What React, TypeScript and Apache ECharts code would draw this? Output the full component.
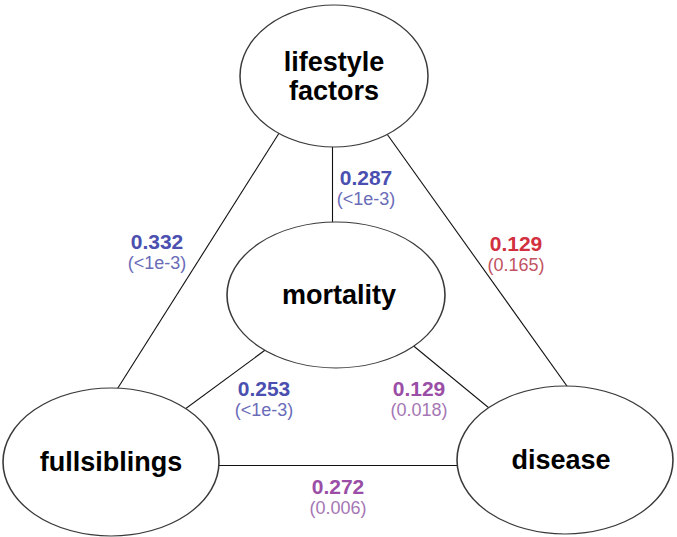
import React, { useEffect, useRef } from "react";
import * as echarts from "echarts";

// ---------- DATA ----------
const nodeNames = ["lifestyle\nfactors", "mortality", "fullsiblings", "disease"];
const edgeSources = ["lifestyle\nfactors", "lifestyle\nfactors", "lifestyle\nfactors", "mortality", "mortality", "fullsiblings"];
const edgeTargets = ["mortality", "fullsiblings", "disease", "fullsiblings", "disease", "disease"];
const edgeEstimates = [0.287, 0.332, 0.129, 0.253, 0.129, 0.272];
const edgePValues = ["(<1e-3)", "(<1e-3)", "(0.165)", "(<1e-3)", "(0.018)", "(0.006)"];
const edgeSignificance = ["strong", "strong", "none", "strong", "weak", "weak"];

// ---------- LAYOUT (positions / sizes / styles) ----------
const W = 677;
const H = 537;
const nodeLayout: Record<string, { cx: number; cy: number; rx: number; ry: number; dx?: number }> = {
  "lifestyle\nfactors": { cx: 334, cy: 76, rx: 94, ry: 71 },
  mortality: { cx: 336, cy: 295, rx: 109, ry: 73, dx: 3 },
  fullsiblings: { cx: 111, cy: 462, rx: 108, ry: 74 },
  disease: { cx: 565, cy: 460, rx: 108, ry: 74, dx: -4 },
};
// segments run deep into both ellipses; the white ellipse fill hides the inner parts
const edgeLayout = [
  { from: [332, 100], to: [332, 270], label: [366, 188] },
  { from: [300, 100], to: [85, 440], label: [157, 252] },
  { from: [362.7, 100], to: [605.5, 440], label: [516, 254] },
  { from: [306, 320], to: [143, 440], label: [264, 399] },
  { from: [382, 320], to: [528, 440], label: [419, 399] },
  { from: [150, 465], to: [520, 465], label: [338, 497] },
];
const sigColors: Record<string, { v: string; p: string }> = {
  strong: { v: "#4a4fb0", p: "#6a6cb8" },
  none: { v: "#d2303f", p: "#c2535f" },
  weak: { v: "#9a4ea6", p: "#a577b4" },
};
const FONT = '"Liberation Sans", Arial, Helvetica, sans-serif';
const ELLIPSE = "path://M-1,0A1,1,0,1,0,1,0A1,1,0,1,0,-1,0Z";

export default function App() {
  const ref = useRef<HTMLDivElement>(null);
  useEffect(() => {
    if (!ref.current) return;
    const chart = echarts.init(ref.current, undefined, { renderer: "svg" });

    const lineData = edgeSources.map((s, i) => ({
      name: s + "-" + edgeTargets[i],
      coords: [edgeLayout[i].from, edgeLayout[i].to],
    }));

    const nodeData = nodeNames.map((n) => {
      const l = nodeLayout[n];
      return {
        name: n,
        value: [l.cx, l.cy],
        symbolSize: [l.rx * 2, l.ry * 2],
        label: { offset: [l.dx || 0, 0] },
      };
    });

    const labelData = edgeEstimates.map((v, i) => {
      const key = edgeSignificance[i];
      return {
        name: edgeSources[i] + "-" + edgeTargets[i],
        value: edgeLayout[i].label,
        label: {
          formatter: "{v" + key + "|" + v.toFixed(3) + "}\n{p" + key + "|" + edgePValues[i] + "}",
        },
      };
    });

    const rich: Record<string, any> = {};
    Object.keys(sigColors).forEach((k) => {
      rich["v" + k] = {
        fontFamily: FONT,
        fontSize: 21,
        fontWeight: "bold",
        color: sigColors[k].v,
        lineHeight: 21,
        align: "center",
      };
      rich["p" + k] = {
        fontFamily: FONT,
        fontSize: 18,
        color: sigColors[k].p,
        lineHeight: 21,
        align: "center",
      };
    });

    chart.setOption({
      animation: false,
      backgroundColor: "#ffffff",
      grid: { left: 0, right: 0, top: 0, bottom: 0 },
      xAxis: { type: "value", min: 0, max: W, show: false },
      yAxis: { type: "value", min: 0, max: H, inverse: true, show: false },
      series: [
        {
          type: "lines",
          coordinateSystem: "cartesian2d",
          z: 1,
          silent: true,
          lineStyle: { color: "#111111", width: 1.1, opacity: 1 },
          data: lineData,
        },
        {
          type: "scatter",
          z: 3,
          symbol: ELLIPSE,
          itemStyle: { color: "#ffffff", borderColor: "#3a3a3a", borderWidth: 1.3, opacity: 1 },
          label: {
            show: true,
            position: "inside",
            formatter: "{b}",
            fontFamily: FONT,
            fontSize: 27,
            fontWeight: "bold",
            color: "#000000",
            lineHeight: 29,
            align: "center",
          },
          data: nodeData,
        },
        {
          type: "scatter",
          z: 4,
          symbolSize: 2,
          itemStyle: { color: "rgba(255,255,255,0)", opacity: 1 },
          label: {
            show: true,
            position: "inside",
            align: "center",
            verticalAlign: "middle",
            rich,
          },
          data: labelData,
        },
      ],
    });
    return () => chart.dispose();
  }, []);
  return (
    <div
      ref={ref}
      style={{ position: "fixed", left: 0, top: 0, width: W, height: H, background: "#fff" }}
    />
  );
}
